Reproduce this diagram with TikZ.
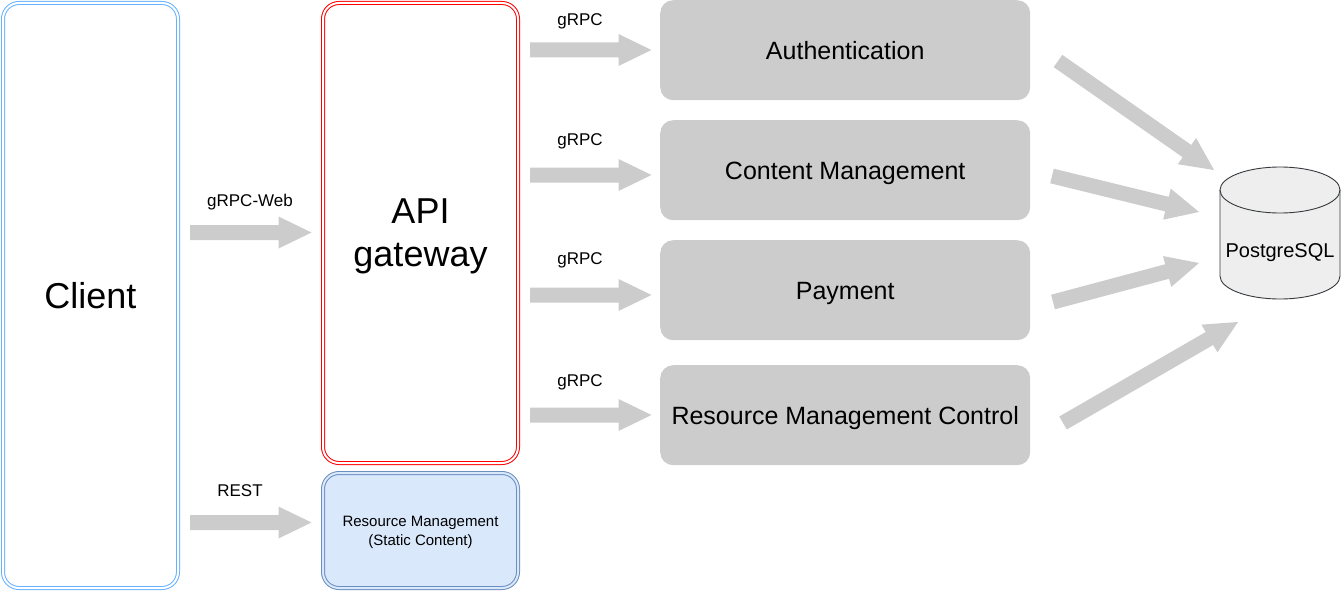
\documentclass[tikz,border=0pt]{standalone}
\usepackage{fontspec}
\setmainfont{Liberation Sans}
\usetikzlibrary{calc}
\definecolor{clientblue}{HTML}{66B2FF}
\definecolor{gwred}{HTML}{FF0000}
\definecolor{rmfill}{HTML}{DAE8FC}
\definecolor{rmstroke}{HTML}{6C8EBF}
\definecolor{svcgray}{HTML}{CCCCCC}
\definecolor{dbfill}{HTML}{EEEEEE}
\definecolor{dbstroke}{HTML}{36393D}
\newcommand\fsz[2]{\fontsize{#1}{#2}\selectfont}
\newcommand\blockarrow[2]{%
  \pgfpointdiff{\pgfpointanchor{#1}{center}}{\pgfpointanchor{#2}{center}}%
  \pgfgetlastxy{\bax}{\bay}%
  \pgfmathsetmacro\baang{atan2(\bay,\bax)}%
  \pgfmathsetmacro\balen{veclen(\bax,\bay)}%
  \fill[svcgray, shift={(#1)}, rotate=\baang]
    (0pt,-7.5pt) -- ({\balen*1pt-33pt},-7.5pt) -- ({\balen*1pt-33pt},-16pt)
    -- ({\balen*1pt},0pt) -- ({\balen*1pt-33pt},16pt) -- ({\balen*1pt-33pt},7.5pt)
    -- (0pt,7.5pt) -- cycle;
}
\tikzset{
  dbox/.style={draw=#1, double=white, line width=1pt, double distance=2pt,
    rounded corners=16pt, anchor=north west, inner sep=0pt, align=center, text depth=0pt},
  svcbox/.style={fill=svcgray, rounded corners=13pt, anchor=north west, inner sep=0pt,
    minimum width=370pt, minimum height=100pt, font=\fsz{25}{30},
    text height=18pt, text depth=0pt},
  lbl/.style={anchor=base, font=\fsz{17}{20}, inner sep=0pt},
}
\begin{document}
\begin{tikzpicture}[x=1pt, y=-1pt]
\useasboundingbox (0,0) rectangle (1341,591);
% boxes
\node[dbox=clientblue, minimum width=175pt, minimum height=585pt, font=\fsz{36}{43}]
  (client) at (2.5,2.5) {Client};
\node[dbox=gwred, minimum width=195pt, minimum height=460pt, font=\fsz{36}{43}]
  (gateway) at (322.5,2.5) {API\\gateway};
\node[dbox=rmstroke, double=rmfill, fill=rmfill, minimum width=195pt, minimum height=115pt,
  font=\fsz{15}{19}] (static) at (322.5,472.5) {Resource Management\\(Static Content)};
\node[svcbox] (auth) at (660,0) {Authentication};
\node[svcbox] (content) at (660,120) {Content Management};
\node[svcbox] (payment) at (660,240) {Payment};
\node[svcbox] (rmc) at (660,365) {Resource Management Control};
% database cylinder
\draw[fill=dbfill, draw=dbstroke, line width=0.9pt]
  (1220,190) -- (1220,276) arc[start angle=180, end angle=360, x radius=60pt, y radius=23pt]
  -- (1340,190) arc[start angle=0, end angle=180, x radius=60pt, y radius=23pt] -- cycle;
\draw[draw=dbstroke, line width=0.9pt]
  (1220,190) arc[start angle=180, end angle=360, x radius=60pt, y radius=23pt];
\node[font=\fsz{20}{24}, inner sep=0pt] (db) at (1280,252.5) {PostgreSQL};
% arrow end points
\coordinate (cwS) at (190,232.5);  \coordinate (cwE) at (311.5,232.5);
\coordinate (crS) at (190,522.5);  \coordinate (crE) at (311.5,522.5);
\coordinate (g1S) at (530,50);     \coordinate (g1E) at (651.5,50);
\coordinate (g2S) at (530,175);    \coordinate (g2E) at (651.5,175);
\coordinate (g3S) at (530,295);    \coordinate (g3E) at (651.5,295);
\coordinate (g4S) at (530,415);    \coordinate (g4E) at (651.5,415);
\coordinate (d1S) at (1058,61);    \coordinate (d1E) at (1214,170);
\coordinate (d2S) at (1052,176);   \coordinate (d2E) at (1199,212);
\coordinate (d3S) at (1053,302);   \coordinate (d3E) at (1199,263);
\coordinate (d4S) at (1063,423);   \coordinate (d4E) at (1238,322);
\blockarrow{cwS}{cwE}
\blockarrow{crS}{crE}
\blockarrow{g1S}{g1E}
\blockarrow{g2S}{g2E}
\blockarrow{g3S}{g3E}
\blockarrow{g4S}{g4E}
\blockarrow{d1S}{d1E}
\blockarrow{d2S}{d2E}
\blockarrow{d3S}{d3E}
\blockarrow{d4S}{d4E}
% labels
\node[lbl] (lweb) at (250,206) {gRPC-Web};
\node[lbl] (lrest) at (240,496) {REST};
\node[lbl] (l1) at (580,26) {gRPC};
\node[lbl] (l2) at (580,146) {gRPC};
\node[lbl] (l3) at (580,264) {gRPC};
\node[lbl] (l4) at (580,386) {gRPC};
\end{tikzpicture}
\end{document}
